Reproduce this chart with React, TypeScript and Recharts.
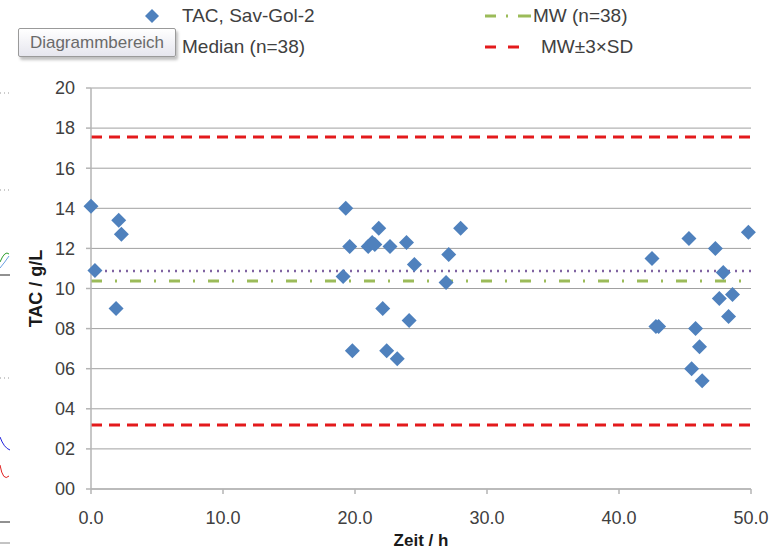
import { ScatterChart, Scatter, XAxis, YAxis, CartesianGrid, ReferenceLine } from "recharts";

// TAC measurements (Zeit / h, TAC / g/L)
const zeit = [
  0.0, 0.3, 1.9, 2.1, 2.3,
  19.1, 19.3, 19.6, 19.8, 21.0, 21.3, 21.5, 21.8, 22.1, 22.4, 22.65, 23.2, 23.9, 24.1, 24.5, 26.9, 27.1, 28.0,
  42.5, 42.8, 43.0, 45.3, 45.5, 45.8, 46.1, 46.3, 47.3, 47.6, 47.9, 48.3, 48.6, 49.8,
];
const tac = [
  14.1, 10.9, 9.0, 13.4, 12.7,
  10.6, 14.0, 12.1, 6.9, 12.1, 12.3, 12.2, 13.0, 9.0, 6.9, 12.1, 6.5, 12.3, 8.4, 11.2, 10.3, 11.7, 13.0,
  11.5, 8.1, 8.1, 12.5, 6.0, 8.0, 7.1, 5.4, 12.0, 9.5, 10.8, 8.6, 9.7, 12.8,
];

const mw = 10.37;
const median = 10.87;
const upper = 17.56;
const lower = 3.19;

const xTicks = [0, 10, 20, 30, 40, 50];
const yTicks = [0, 2, 4, 6, 8, 10, 12, 14, 16, 18, 20];

const points = zeit.map((z, i) => ({ x: z, y: tac[i] }));

const FONT = '"Liberation Sans", Arial, sans-serif';
const BLUE = "#4f81bd";
const GREEN = "#9bbb59";
const RED = "#e31a1c";
const PURPLE = "#8064a2";
const TEXT = "#404040";

const Diamond = (props: any) => {
  const { cx, cy } = props;
  const r = 7.5;
  return <path d={`M${cx},${cy - r}L${cx + r},${cy}L${cx},${cy + r}L${cx - r},${cy}Z`} fill={BLUE} />;
};

const legendText: React.CSSProperties = {
  position: "absolute",
  fontFamily: FONT,
  fontSize: 19,
  color: TEXT,
  lineHeight: "22px",
  whiteSpace: "nowrap",
};

export default function App() {
  return (
    <div style={{ position: "absolute", left: 0, top: 0, width: 778, height: 552, background: "#fff", overflow: "hidden" }}>
      {/* bits of the neighbouring chart at the left edge */}
      <svg width={14} height={552} style={{ position: "absolute", left: 0, top: 0 }}>
        <line x1={0} y1={93} x2={9} y2={93} stroke="#999" strokeDasharray="1 3" />
        <line x1={0} y1={190} x2={9} y2={190} stroke="#999" strokeDasharray="1 3" />
        <line x1={0} y1={378} x2={9} y2={378} stroke="#999" strokeDasharray="1 3" />
        <path d="M0,262 Q5,250 9,254" fill="none" stroke="#2e9e2e" strokeWidth={1} />
        <path d="M0,268 Q5,262 9,256" fill="none" stroke="#6aa0e0" strokeWidth={1} />
        <line x1={0} y1={275} x2={10} y2={275} stroke="#222" />
        <path d="M0,437 Q4,448 10,450" fill="none" stroke="#2222dd" strokeWidth={1} />
        <path d="M0,465 Q3,482 9,476" fill="none" stroke="#e02020" strokeWidth={1} />
        <line x1={0} y1={522} x2={10} y2={522} stroke="#222" />
        <line x1={0} y1={543} x2={10} y2={543} stroke="#888" />
      </svg>

      {/* legend */}
      <svg width={778} height={70} style={{ position: "absolute", left: 0, top: 0 }}>
        <path d="M152,9L159,16L152,23L145,16Z" fill={BLUE} />
        <line x1={130} y1={47} x2={170} y2={47} stroke={PURPLE} strokeWidth={2.5} strokeDasharray="2 5" />
        <line x1={485} y1={16} x2={531} y2={16} stroke={GREEN} strokeWidth={3} strokeDasharray="11 10 2 10 13" />
        <line x1={485} y1={47} x2={520} y2={47} stroke={RED} strokeWidth={3} strokeDasharray="11 12" />
      </svg>
      <div style={{ ...legendText, left: 182, top: 5 }}>TAC, Sav-Gol-2</div>
      <div style={{ ...legendText, left: 182, top: 36 }}>Median (n=38)</div>
      <div style={{ ...legendText, left: 533, top: 5 }}>MW (n=38)</div>
      <div style={{ ...legendText, left: 541, top: 36 }}>MW±3×SD</div>

      {/* hover tip left over from the spreadsheet */}
      <div
        style={{
          position: "absolute",
          left: 18,
          top: 28,
          width: 156,
          height: 27,
          border: "1px solid #9a9a9a",
          borderRadius: 2,
          background: "linear-gradient(#ffffff, #e6e6ee)",
          boxShadow: "2px 3px 3px rgba(0,0,0,0.25)",
          fontFamily: FONT,
          fontSize: 17,
          color: "#6a6a6a",
          lineHeight: "27px",
          textAlign: "center",
          whiteSpace: "nowrap",
        }}
      >
        Diagrammbereich
      </div>

      <div style={{ position: "absolute", left: 0, top: 0 }}>
        <ScatterChart width={778} height={552} margin={{ top: 88, right: 27, bottom: 0, left: 0 }}>
          <CartesianGrid horizontal vertical={false} stroke="#a0a0a0" strokeWidth={1} />
          <XAxis
            type="number"
            dataKey="x"
            domain={[0, 50]}
            ticks={xTicks}
            height={63}
            tickFormatter={(v: number) => v.toFixed(1)}
            stroke="#b4b4b4"
            strokeWidth={1.5}
            tickSize={5}
            tickMargin={17}
            tick={{ fill: TEXT, fontSize: 18, fontFamily: FONT }}
            label={{ value: "Zeit / h", position: "insideBottom", offset: 6, fill: "#1a1a1a", fontSize: 17, fontWeight: "bold", fontFamily: FONT }}
          />
          <YAxis
            type="number"
            dataKey="y"
            domain={[0, 20]}
            ticks={yTicks}
            width={91}
            tickFormatter={(v: number) => String(v).padStart(2, "0")}
            stroke="#b4b4b4"
            strokeWidth={1.5}
            tickSize={5}
            tickMargin={11}
            tick={{ fill: TEXT, fontSize: 18, fontFamily: FONT }}
            label={{ value: "TAC / g/L", angle: -90, position: "insideLeft", offset: 36, fill: "#1a1a1a", fontSize: 18, fontWeight: "bold", fontFamily: FONT, style: { textAnchor: "middle" } }}
          />
          <ReferenceLine y={upper} stroke={RED} strokeWidth={3} strokeDasharray="11 7" />
          <ReferenceLine y={lower} stroke={RED} strokeWidth={3} strokeDasharray="11 7" />
          <ReferenceLine y={mw} stroke={GREEN} strokeWidth={3} strokeDasharray="11 13 2 13" />
          <ReferenceLine y={median} stroke={PURPLE} strokeWidth={2.5} strokeDasharray="2 5" />
          <Scatter data={points} shape={<Diamond />} isAnimationActive={false} />
        </ScatterChart>
      </div>
    </div>
  );
}
